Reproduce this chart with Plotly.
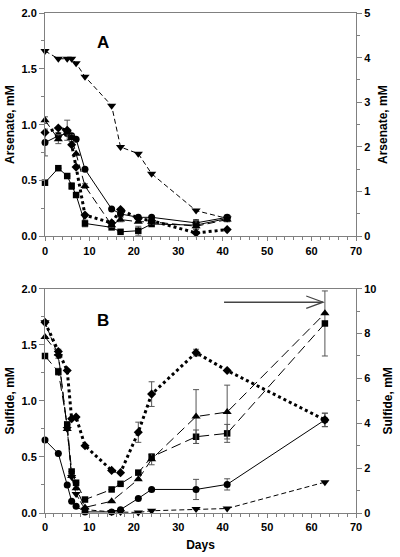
import plotly.graph_objects as go

# ---------------- Panel A: Arsenate ----------------
days_A = [0, 3, 5, 6, 7, 9, 15, 17, 21, 24, 34, 41]
arsA_invtri = [1.66, 1.59, 1.59, 1.59, 1.55, 1.43, 1.17, 0.80, 0.74, 0.56, 0.23, 0.16]
arsA_circle = [0.84, 0.90, 0.92, 0.90, 0.87, 0.60, 0.245, 0.20, 0.17, 0.17, 0.12, 0.17]
arsA_diamond = [0.93, 0.97, 0.95, 0.82, 0.62, 0.19, 0.12, 0.24, 0.16, 0.14, 0.03, 0.06]
arsA_triangle = [1.04, 0.87, 0.95, 0.88, 0.74, 0.45, 0.10, 0.15, 0.13, 0.13, 0.09, 0.15]
arsA_square = [0.48, 0.61, 0.54, 0.45, 0.37, 0.115, 0.08, 0.04, 0.05, 0.11, 0.10, 0.16]

errA_circle = [0.12, 0.03, 0, 0, 0, 0, 0, 0, 0, 0, 0.03, 0.02]
errA_triangle = [0.03, 0.04, 0.09, 0.03, 0, 0.02, 0.02, 0.02, 0, 0.02, 0.05, 0.02]
errA_square = [0, 0, 0, 0.03, 0, 0.03, 0, 0, 0.04, 0, 0.04, 0]

# ---------------- Panel B: Sulfide ----------------
days_B = [0, 3, 5, 6, 7, 9, 15, 17, 21, 24, 34, 41, 63]
days_B_tri = [0, 3, 5, 6, 7, 9, 15, 21, 24, 34, 41, 63]
sulB_invtri = [1.70, 1.40, 0.75, 0.32, 0.17, 0.03, 0.01, 0.01, 0.005, 0.02, 0.035, 0.04, 0.275]
sulB_circle = [0.65, 0.53, 0.25, 0.105, 0.06, 0.01, 0.01, 0.03, 0.13, 0.21, 0.21, 0.255, 0.83]
sulB_square = [1.40, 1.26, 0.79, 0.37, 0.27, 0.12, 0.21, 0.26, 0.36, 0.50, 0.68, 0.71, 1.69]
sulB_triangle = [1.57, 1.42, 0.75, 0.33, 0.22, 0.05, 0.105, 0.30, 0.48, 0.86, 0.90, 1.78]
sulB_diamond = [1.70, 1.44, 1.27, 0.84, 0.855, 0.60, 0.38, 0.36, 0.72, 1.06, 1.43, 1.27, 0.83]

errB_circle = [0, 0, 0, 0, 0, 0, 0, 0, 0, 0, 0.09, 0.05, 0.06]
errB_square = [0, 0.03, 0, 0, 0, 0, 0, 0, 0, 0.02, 0.06, 0.08, 0.29]
errB_triangle = [0, 0.04, 0, 0, 0, 0, 0, 0, 0.05, 0.24, 0.24, 0]
errB_diamond = [0, 0, 0, 0, 0, 0, 0, 0, 0.09, 0.11, 0.03, 0, 0.06]

# arrow marking the sulfide time span (days, mM)
arrow_days = [40.3, 62.6]
arrow_level = 1.88

x_ticks = [0, 10, 20, 30, 40, 50, 60, 70]

FONT = "Liberation Sans"
AXC = "#808080"


def err(arr):
    return dict(type="data", array=arr, visible=True, color="#555555",
                thickness=1, width=3)


def series(x, y, symbol, dash, lw, xa, ya, e=None, size=7):
    return go.Scatter(
        x=x, y=y, mode="lines+markers", xaxis=xa, yaxis=ya,
        line=dict(color="black", width=lw, dash=dash),
        marker=dict(symbol=symbol, size=size, color="black"),
        error_y=err(e) if e is not None else None,
        cliponaxis=False, showlegend=False, hoverinfo="skip")


fig = go.Figure()
# Panel A
fig.add_trace(series(days_A, arsA_square, "square", "solid", 1, "x", "y", errA_square, size=6.5))
fig.add_trace(series(days_A, arsA_circle, "circle", "solid", 1, "x", "y", errA_circle))
fig.add_trace(series(days_A, arsA_triangle, "triangle-up", "8px,4px", 1, "x", "y", errA_triangle, size=8))
fig.add_trace(series(days_A, arsA_invtri, "triangle-down", "5px,3px", 1, "x", "y", size=8))
fig.add_trace(series(days_A, arsA_diamond, "diamond", "dot", 3, "x", "y", size=7))
fig.add_trace(go.Scatter(x=[None], y=[None], xaxis="x", yaxis="y2", showlegend=False,
                         hoverinfo="skip"))

# Panel B
fig.add_trace(series(days_B, sulB_circle, "circle", "solid", 1, "x2", "y3", errB_circle))
fig.add_trace(series(days_B, sulB_square, "square", "10px,5px", 1, "x2", "y3", errB_square, size=6.5))
fig.add_trace(series(days_B_tri, sulB_triangle, "triangle-up", "10px,5px", 1, "x2", "y3", errB_triangle, size=8))
fig.add_trace(series(days_B, sulB_invtri, "triangle-down", "5px,3px", 1, "x2", "y3", size=8))
fig.add_trace(series(days_B, sulB_diamond, "diamond", "dot", 3, "x2", "y3", errB_diamond, size=7))
fig.add_trace(go.Scatter(x=[None], y=[None], xaxis="x2", yaxis="y4", showlegend=False,
                         hoverinfo="skip"))

tickfont = dict(family=FONT, size=11, color="black", weight="bold")
titlefont = dict(family=FONT, size=12, color="black", weight="bold")

xcommon = dict(range=[0, 70], tickvals=x_ticks, showline=True, linecolor=AXC,
               linewidth=1, mirror=True, ticks="outside", ticklen=4, tickcolor=AXC,
               showgrid=False, zeroline=False, tickfont=tickfont,
               minor=dict(dtick=2, ticks="outside", ticklen=3, tickcolor=AXC))
ycommon = dict(showline=True, linecolor=AXC, linewidth=1, ticks="outside", ticklen=5,
               tickcolor=AXC, showgrid=False, zeroline=False, tickfont=tickfont)

pA = [0.5534, 1.0]
pB = [0.0, 0.4486]

fig.update_layout(
    width=400, height=557,
    margin=dict(l=45, r=40, t=7, b=44),
    plot_bgcolor="white", paper_bgcolor="white",
    xaxis=dict(domain=[0, 1], anchor="y", **xcommon),
    xaxis2=dict(domain=[0, 1], anchor="y3",
                title=dict(text="Days", font=titlefont, standoff=8), **xcommon),
    yaxis=dict(domain=pA, range=[0, 2], dtick=0.5, tickformat=".1f", anchor="x",
               title=dict(text="Arsenate, mM", font=titlefont, standoff=4),
               minor=dict(dtick=0.25, ticks="outside", ticklen=3, tickcolor=AXC),
               **ycommon),
    yaxis2=dict(domain=pA, range=[0, 5], dtick=1, overlaying="y", side="right",
                anchor="x", title=dict(text="Arsenate, mM", font=titlefont, standoff=8),
                minor=dict(dtick=0.5, ticks="outside", ticklen=3, tickcolor=AXC),
                **ycommon),
    yaxis3=dict(domain=pB, range=[0, 2], dtick=0.5, tickformat=".1f", anchor="x2",
                title=dict(text="Sulfide, mM", font=titlefont, standoff=4),
                minor=dict(dtick=0.25, ticks="outside", ticklen=3, tickcolor=AXC),
                **ycommon),
    yaxis4=dict(domain=pB, range=[0, 10], dtick=2, overlaying="y3", side="right",
                anchor="x2", title=dict(text="Sulfide, mM", font=titlefont, standoff=8),
                minor=dict(dtick=1, ticks="outside", ticklen=3, tickcolor=AXC),
                **ycommon),
)

fig.add_annotation(x=13, y=1.74, xref="x", yref="y", text="A", showarrow=False,
                   font=dict(family=FONT, size=17, color="black", weight="bold"))
fig.add_annotation(x=13, y=1.72, xref="x2", yref="y3", text="B", showarrow=False,
                   font=dict(family=FONT, size=17, color="black", weight="bold"))

# arrow: shaft + open head
fig.add_shape(type="line", xref="x2", yref="y3", x0=arrow_days[0], x1=arrow_days[1],
              y0=arrow_level, y1=arrow_level, line=dict(color="#444444", width=1.5))
fig.add_shape(type="path", xref="x2", yref="y3",
              path=f"M {arrow_days[1]-3.8},{arrow_level+0.055} L {arrow_days[1]},{arrow_level} "
                   f"L {arrow_days[1]-3.8},{arrow_level-0.055}",
              line=dict(color="#444444", width=1.2))

fig.write_html("out.html", config={"displayModeBar": False},
               post_script="document.body.style.margin='0';document.body.style.padding='0';")
